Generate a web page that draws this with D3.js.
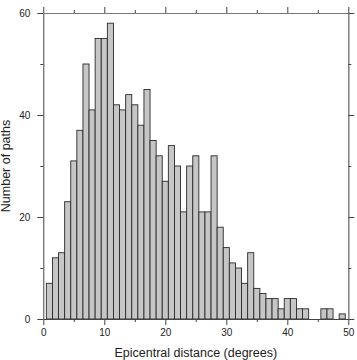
<!DOCTYPE html>
<html>
<head>
<meta charset="utf-8">
<script src="https://cdn.jsdelivr.net/npm/d3@7"></script>
<style>
html,body{margin:0;padding:0;background:#fff;}
svg{display:block;}
text{font-family:"Liberation Sans",Arial,Helvetica,sans-serif;fill:#222;}
</style>
</head>
<body>
<script>
// Bin centres (degrees) and counts
const binCenters = [1,2,3,4,5,6,7,8,9,10,11,12,13,14,15,16,17,18,19,20,21,22,23,24,25,26,27,28,29,30,31,32,33,34,35,36,37,38,39,40,41,42,43,44,45,46,47,48,49];
const counts =     [7,12,13,23,31,37,50,41,55,55,58,42,41,44,42,38,45,35,32,27,34,30,21,30,32,21,21,32,18,14,11,10,7,13,6,5,4,4,2,4,4,2,2,0,0,2,2,0,1];
const binWidth = 1;
const xTickLabels = [0,10,20,30,40,50];
const yTickLabels = [0,20,40,60];
const xTitle = "Epicentral distance (degrees)";
const yTitle = "Number of paths";

const W = 357, H = 360;
const svg = d3.select("body").append("svg").attr("width", W).attr("height", H);

const x = d3.scaleLinear().domain([0, 50]).range([43.3, 348.3]);
const y = d3.scaleLinear().domain([0, 60]).range([319, 13]);

const frameColor = "#444";

// bars
svg.append("g").selectAll("rect")
  .data(binCenters.map((c, i) => ({c, v: counts[i]})).filter(d => d.v > 0))
  .join("rect")
  .attr("x", d => x(d.c - binWidth / 2))
  .attr("width", d => x(d.c + binWidth / 2) - x(d.c - binWidth / 2))
  .attr("y", d => y(d.v))
  .attr("height", d => y(0) - y(d.v))
  .attr("fill", "#c6c6c6")
  .attr("stroke", "#2a2a2a")
  .attr("stroke-width", 0.9);

// axes helpers
function styleAxis(g) {
  g.selectAll("path").attr("stroke", frameColor);
  g.selectAll("line").attr("stroke", frameColor);
  g.selectAll("text").style("font-size", "10px").attr("fill", "#222")
    .style("font-family", '"Liberation Sans",Arial,Helvetica,sans-serif');
}

const minorX = d3.range(5, 50, 10);
const minorY = d3.range(10, 60, 20);

// bottom
const gB = svg.append("g").attr("transform", `translate(0,${y(0)})`)
  .call(d3.axisBottom(x).tickValues(xTickLabels).tickFormat(d3.format("d")).tickSize(6).tickSizeOuter(0).tickPadding(4));
gB.append("g").call(d3.axisBottom(x).tickValues(minorX).tickFormat("").tickSize(3).tickSizeOuter(0)).select("path").remove();
styleAxis(gB);

// top
const gT = svg.append("g").attr("transform", `translate(0,${y(60)})`)
  .call(d3.axisTop(x).tickValues(xTickLabels).tickFormat("").tickSize(6).tickSizeOuter(0));
gT.append("g").call(d3.axisTop(x).tickValues(minorX).tickFormat("").tickSize(3).tickSizeOuter(0)).select("path").remove();
styleAxis(gT);

// left
const gL = svg.append("g").attr("transform", `translate(${x(0)},0)`)
  .call(d3.axisLeft(y).tickValues(yTickLabels).tickFormat(d3.format("d")).tickSize(6).tickSizeOuter(0).tickPadding(7));
gL.append("g").call(d3.axisLeft(y).tickValues(minorY).tickFormat("").tickSize(3).tickSizeOuter(0)).select("path").remove();
styleAxis(gL);

// right
const gR = svg.append("g").attr("transform", `translate(${x(50)},0)`)
  .call(d3.axisRight(y).tickValues(yTickLabels).tickFormat("").tickSize(6).tickSizeOuter(0));
gR.append("g").call(d3.axisRight(y).tickValues(minorY).tickFormat("").tickSize(3).tickSizeOuter(0)).select("path").remove();
styleAxis(gR);
gR.select("path").attr("stroke", "#888").attr("stroke-width", 1.6);
gT.select("path").attr("stroke", "#777");

// titles
svg.append("text")
  .attr("x", (x(0) + x(50)) / 2).attr("y", 357)
  .attr("text-anchor", "middle").style("font-size", "12.5px")
  .text(xTitle);

svg.append("text")
  .attr("transform", `translate(10,${(y(0) + y(60)) / 2}) rotate(-90)`)
  .attr("text-anchor", "middle").style("font-size", "12.5px")
  .text(yTitle);
</script>
</body>
</html>
